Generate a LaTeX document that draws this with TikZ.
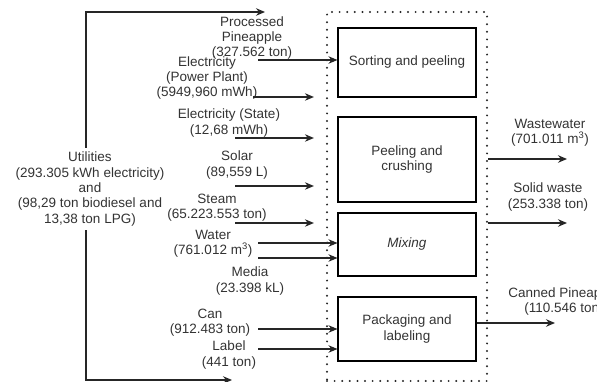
\documentclass[tikz,border=0pt]{standalone}
\usepackage{fontspec}
\setmainfont{Liberation Sans}
\usetikzlibrary{arrows.meta,positioning}
\definecolor{txtgray}{HTML}{333333}

\begin{document}
\begin{tikzpicture}[x=1pt, y=-1pt,
    lbl/.style={align=center, text=txtgray, inner sep=1pt, font=\fontsize{13.5}{15.3}\selectfont},
    proc/.style={draw=black, line width=1.1pt, minimum width=138pt, text=txtgray, align=center,
    font=\fontsize{13.5}{15.3}\selectfont},
    arr/.style={-{Stealth[length=9pt,width=7.5pt,inset=3pt]}, line width=1.1pt, draw=black!85}]
\useasboundingbox (0,0) rectangle (597,382);
% plant boundary and process steps
\node[draw=black!85, line width=2.2pt, line cap=round, dash pattern=on 0pt off 7.6pt,
  minimum width=160pt, minimum height=369pt] (plant) at (407,196.5) {};
\node[proc, minimum height=69pt] (sort) at (407,62.5) {Sorting and peeling};
\node[proc, minimum height=85pt] (crush) at (407,159.5) {Peeling and\\crushing};
\node[proc, minimum height=63pt] (mix) at (407,244.5) {\textit{Mixing}};
\node[proc, minimum height=64pt] (pack) at (407,329) {Packaging and\\labeling};
% inputs
\node[lbl, fill=white, minimum height=82pt] (util) at (90,189) {Utilities\\(293.305 kWh electricity)\\and\\(98,29 ton biodiesel and\\13,38 ton LPG)};
\node[lbl] (pine) at (252,38) {Processed\\Pineapple\\(327.562 ton)};
\node[lbl] (elpp) at (207,78) {Electricity\\(Power Plant)\\(5949,960 mWh)};
\node[lbl] (elst) at (229,123) {Electricity (State)\\(12,68 mWh)};
\node[lbl] (solar) at (237,165) {Solar\\(89,559 L)};
\node[lbl] (steam) at (217,208) {Steam\\(65.223.553 ton)};
\node[lbl] (water) at (213,244) {Water\\(761.012 m\textsuperscript{3})};
\node[lbl] (media) at (250,281) {Media\\(23.398 kL)};
\node[lbl] (can) at (210,323) {Can\\(912.483 ton)};
\node[lbl] (label) at (229,355) {Label\\(441 ton)};
% outputs
\node[lbl] (waste) at (550,133) {Wastewater\\(701.011 m\textsuperscript{3})};
\node[lbl] (solid) at (548,197) {Solid waste\\(253.338 ton)};
\node[lbl] (canned) at (564,301.5) {Canned Pineapple\\(110.546 ton)};

\coordinate (top-e) at (265,12);
\coordinate (bot-e) at (232,380);
\draw[arr] ([xshift=-4pt]util.north) |- (top-e);
\draw[arr] ([xshift=-4pt]util.south) |- (bot-e);

\coordinate (pine-s) at (258,60);
\draw[arr] (pine-s) -- (pine-s -| sort.west);
\foreach \n/\y/\xs in {elpp/97/253, elst/138/235, solar/186/235, steam/223/235} {
  \coordinate (\n-s) at (\xs,\y);
  \draw[arr] (\n-s) -- ([xshift=-12pt]plant.west |- \n-s);
}
\foreach \n/\y in {water-a/243, water-b/258} {
  \coordinate (\n) at (258,\y);
  \draw[arr] (\n) -- (\n -| mix.west);
}
\foreach \n/\y in {can-s/329, label-s/349} {
  \coordinate (\n) at (258,\y);
  \draw[arr] (\n) -- (\n -| pack.west);
}

\coordinate (waste-e) at (567,159);
\coordinate (solid-e) at (567,223);
\coordinate (canned-e) at (555,323);
\draw[arr] (plant.east |- waste-e) -- (waste-e);
\draw[arr] (plant.east |- solid-e) -- (solid-e);
\draw[arr] (pack.east |- canned-e) -- (canned-e);
\end{tikzpicture}
\end{document}
